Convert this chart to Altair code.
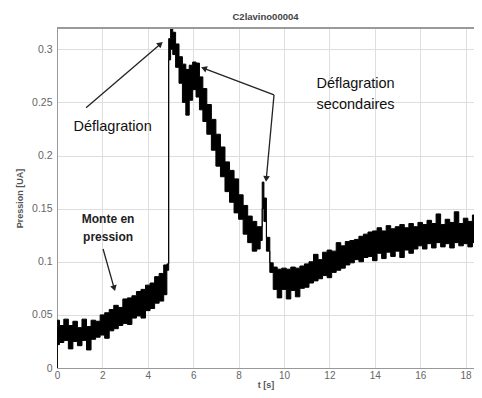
import math
import altair as alt
import pandas as pd

# ---- signal envelope (t in s, pressure in UA) ----
t = [0.0, 0.02, 0.2, 0.4, 0.6, 0.8, 1.0, 1.2, 1.4, 1.6, 1.8, 2.0, 2.2, 2.4, 2.6, 2.8,
     3.0, 3.2, 3.4, 3.6, 3.8, 4.0, 4.2, 4.4, 4.6, 4.8, 4.88, 4.96, 5.05, 5.15, 5.3,
     5.45, 5.6, 5.75, 5.9, 6.05, 6.2, 6.35, 6.5, 6.7, 6.9, 7.1, 7.3, 7.5, 7.7, 7.9,
     8.1, 8.3, 8.5, 8.7, 8.9, 9.0, 9.08, 9.15, 9.3, 9.45, 9.6, 9.8, 10.0, 10.2, 10.4,
     10.6, 10.8, 11.0, 11.2, 11.4, 11.6, 11.8, 12.0, 12.2, 12.4, 12.6, 12.8, 13.0,
     13.2, 13.4, 13.6, 13.8, 14.0, 14.2, 14.4, 14.6, 14.8, 15.0, 15.2, 15.4, 15.6,
     15.8, 16.0, 16.2, 16.4, 16.6, 16.8, 17.0, 17.2, 17.4, 17.6, 17.8, 18.0, 18.2,
     18.4, 18.6, 18.8]
p_low = [0.0, 0.022, 0.024, 0.026, 0.018, 0.025, 0.021, 0.026, 0.017, 0.027, 0.029,
         0.031, 0.028, 0.035, 0.037, 0.040, 0.042, 0.041, 0.047, 0.049, 0.047, 0.054,
         0.056, 0.061, 0.063, 0.069, 0.092, 0.290, 0.300, 0.295, 0.283, 0.268, 0.250,
         0.238, 0.252, 0.262, 0.255, 0.243, 0.232, 0.220, 0.205, 0.190, 0.180, 0.166,
         0.156, 0.146, 0.140, 0.126, 0.118, 0.110, 0.112, 0.120, 0.150, 0.138, 0.110,
         0.090, 0.074, 0.066, 0.074, 0.065, 0.073, 0.067, 0.075, 0.076, 0.080, 0.082,
         0.084, 0.087, 0.085, 0.090, 0.092, 0.094, 0.097, 0.099, 0.102, 0.100, 0.104,
         0.105, 0.101, 0.108, 0.103, 0.109, 0.105, 0.110, 0.104, 0.111, 0.108, 0.112,
         0.115, 0.112, 0.117, 0.113, 0.118, 0.114, 0.117, 0.113, 0.118, 0.115, 0.117,
         0.114, 0.118, 0.115, 0.117]
p_high = [0.038, 0.045, 0.040, 0.046, 0.040, 0.044, 0.038, 0.046, 0.039, 0.045, 0.044,
          0.050, 0.052, 0.055, 0.059, 0.057, 0.065, 0.066, 0.068, 0.072, 0.074, 0.078,
          0.080, 0.086, 0.089, 0.097, 0.098, 0.310, 0.320, 0.316, 0.305, 0.293, 0.286,
          0.281, 0.285, 0.288, 0.287, 0.274, 0.263, 0.248, 0.234, 0.220, 0.208, 0.194,
          0.186, 0.178, 0.163, 0.153, 0.143, 0.138, 0.133, 0.133, 0.175, 0.160, 0.123,
          0.099, 0.095, 0.093, 0.094, 0.093, 0.095, 0.094, 0.096, 0.098, 0.100, 0.107,
          0.102, 0.109, 0.111, 0.110, 0.118, 0.115, 0.119, 0.120, 0.121, 0.124, 0.126,
          0.128, 0.129, 0.132, 0.129, 0.134, 0.131, 0.133, 0.135, 0.132, 0.136, 0.133,
          0.137, 0.135, 0.139, 0.136, 0.145, 0.135, 0.140, 0.137, 0.147, 0.136, 0.141,
          0.138, 0.144, 0.137, 0.140]

# ---- axis ticks ----
x_ticks = [0, 2, 4, 6, 8, 10, 12, 14, 16, 18]
y_ticks = [0, 0.05, 0.1, 0.15, 0.2, 0.25, 0.3]

# ---- annotations (data units) ----
ann_text = ["Déflagration", "Déflagration", "secondaires"]
ann_t = [2.45, 13.15, 13.15]
ann_p = [0.227, 0.267, 0.248]

bold_text = ["Monte en", "pression"]
bold_t = [2.25, 2.25]
bold_p = [0.140, 0.123]

arr_t0 = [1.28, 9.56, 9.56, 2.03]
arr_p0 = [0.245, 0.257, 0.257, 0.112]
arr_t1 = [4.56, 6.47, 9.22, 2.52]
arr_p1 = [0.305, 0.282, 0.178, 0.075]

W, H = 417, 340
XMAX, YMAX = 18.37, 0.32
FONT = "Liberation Sans"

sig = pd.DataFrame({"t": t, "lo": p_low, "hi": p_high})

px_t = W / XMAX
px_p = H / YMAX
angles = []
for a, b, c, d in zip(arr_t0, arr_p0, arr_t1, arr_p1):
    dx = (c - a) * px_t
    dy = -(d - b) * px_p
    angles.append(math.degrees(math.atan2(dx, -dy)) % 360)
arr = pd.DataFrame({"t0": arr_t0, "p0": arr_p0, "t1": arr_t1, "p1": arr_p1, "ang": angles})

xs = alt.Scale(domain=[0, XMAX], nice=False, zero=False)
ys = alt.Scale(domain=[0, YMAX], nice=False)

x_axis = alt.Axis(values=x_ticks, title="t [s]", grid=True, gridColor="#dedede",
                  labelFont=FONT, labelFontSize=10, labelColor="#666",
                  titleFont=FONT, titleFontSize=9, titleColor="#555", titleFontWeight="bold",
                  domainColor="#999", ticks=False, labelPadding=2,
                  titlePadding=0, labelFlush=False)
y_axis = alt.Axis(values=y_ticks, title="Pression [UA]", grid=True, gridColor="#dedede",
                  labelFont=FONT, labelFontSize=10.5, labelColor="#666", format="~g",
                  titleFont=FONT, titleFontSize=9, titleColor="#555", titleFontWeight="bold",
                  domainColor="#999", ticks=False, labelPadding=5,
                  titlePadding=7, labelFlush=False)

band = alt.Chart(sig).mark_area(color="black", stroke="black", strokeWidth=1,
                                interpolate="step", clip=True).encode(
    x=alt.X("t:Q", scale=xs, axis=x_axis),
    y=alt.Y("lo:Q", scale=ys, axis=y_axis),
    y2="hi:Q",
)

frame_top = alt.Chart(sig).mark_rule(color="#999", strokeWidth=1).encode(
    x=alt.value(0), x2=alt.value(W), y=alt.value(0))

lines = alt.Chart(arr).mark_rule(color="#222", strokeWidth=1.3).encode(
    x="t0:Q", y="p0:Q", x2="t1:Q", y2="p1:Q")
heads = alt.Chart(arr).mark_point(shape="triangle-up", filled=True, color="#222",
                                  size=45, opacity=1).encode(
    x="t1:Q", y="p1:Q", angle=alt.Angle("ang:Q", scale=None))

labels = alt.Chart(pd.DataFrame({"txt": ann_text, "t": ann_t, "p": ann_p})).mark_text(
    font=FONT, fontSize=14.5, color="#111").encode(x="t:Q", y="p:Q", text="txt:N")
blabels = alt.Chart(pd.DataFrame({"txt": bold_text, "t": bold_t, "p": bold_p})).mark_text(
    font=FONT, fontSize=12, fontWeight="bold", color="#222").encode(x="t:Q", y="p:Q", text="txt:N")

chart = alt.layer(band, frame_top, lines, heads, labels, blabels).properties(
    width=W, height=H,
    title=alt.Title("C2lavino00004", font=FONT, fontSize=9.5, fontWeight="bold",
                    color="#444", offset=6),
    autosize=alt.AutoSizeParams(type="none"),
    padding={"left": 49, "top": 20, "right": 0, "bottom": 22},
).configure_view(stroke=None).configure(background="white")

chart.save("out.html", embed_options={"renderer": "svg", "actions": False})
